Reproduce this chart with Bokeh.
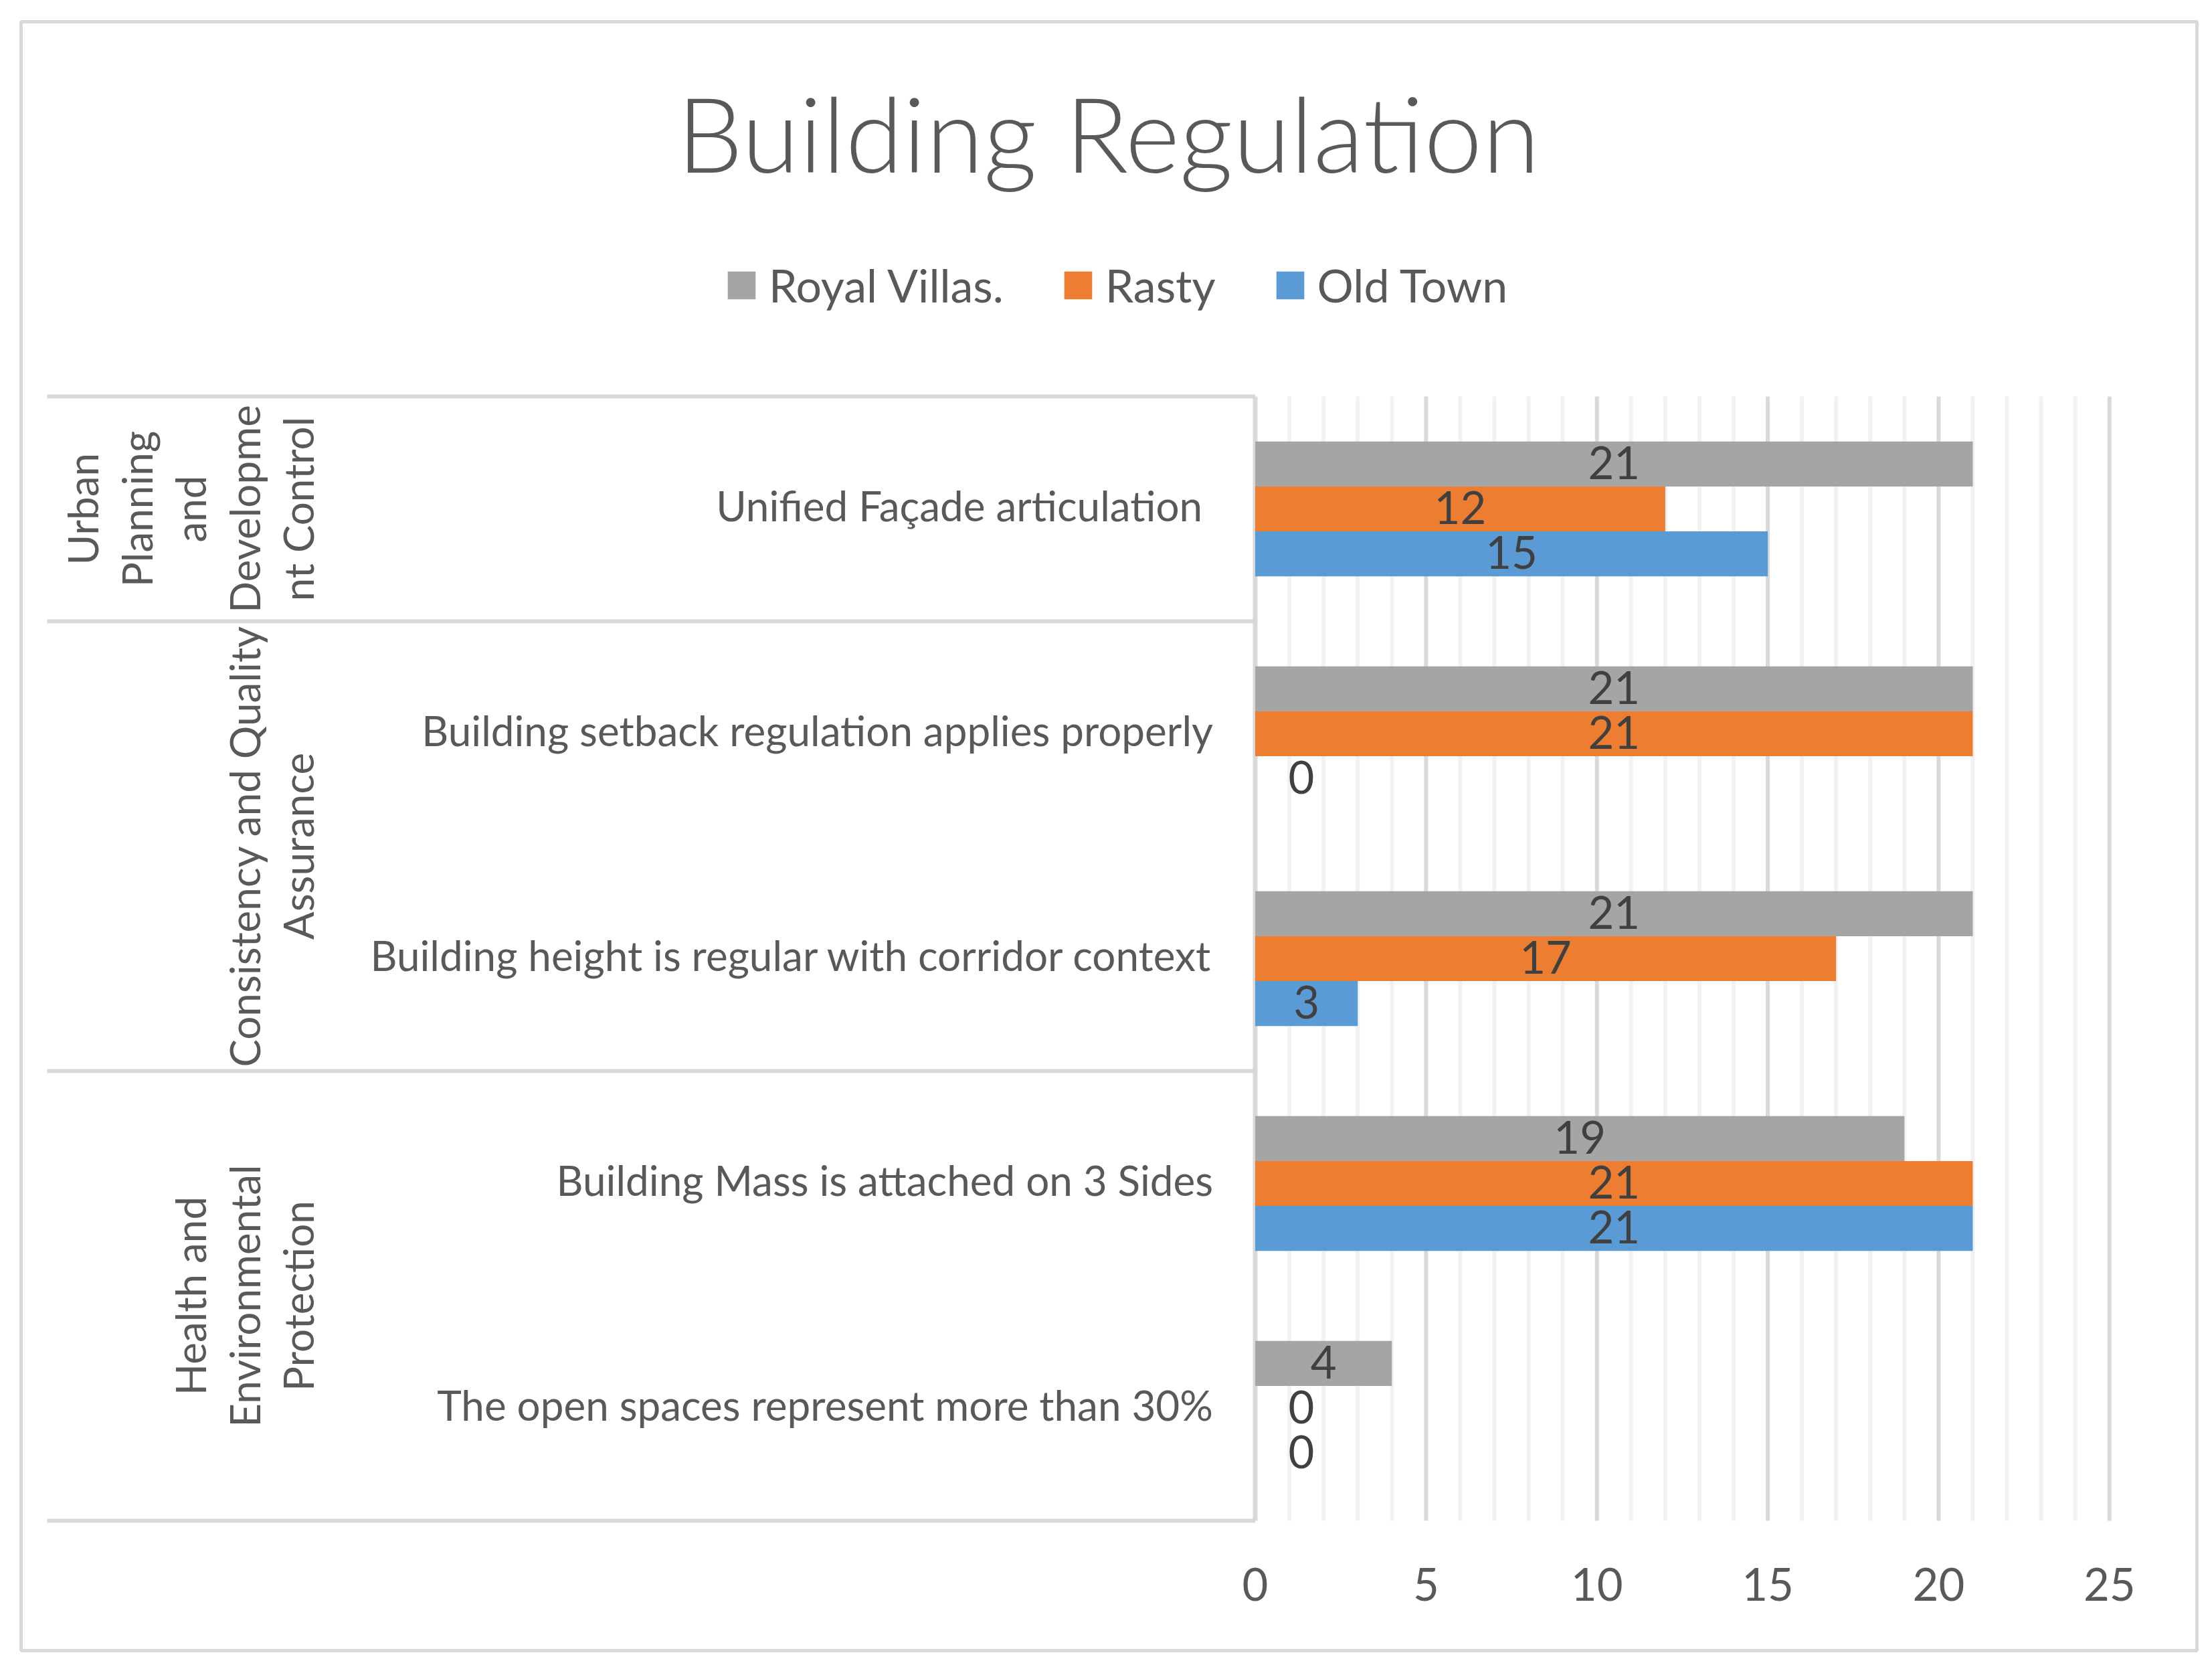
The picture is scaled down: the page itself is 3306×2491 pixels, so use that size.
import math
from bokeh.plotting import figure
from bokeh.models import ColumnDataSource
from bokeh.core.properties import value
from bokeh.embed import file_html
from bokeh.resources import INLINE

# ---------------- data ----------------
title_text = "Building Regulation"
categories = [
    "Unified Façade articulation ",
    "Building setback regulation applies properly",
    "Building height is regular with corridor context",
    "Building Mass is attached on 3  Sides",
    "The open spaces represent more than 30%",
]
groups = [
    "Urban\nPlanning\nand\nDevelopme\nnt Control",
    "Consistency and Quality\nAssurance",
    "Health and\nEnvironmental\nProtection",
]
group_sizes = [1, 2, 2]
series_names = ["Royal Villas.", "Rasty", "Old Town"]
royal_villas = [21, 21, 21, 19, 4]
rasty = [12, 21, 17, 21, 0]
old_town = [15, 0, 3, 21, 0]
x_ticks = [0, 5, 10, 15, 20, 25]

# ---------------- style / layout ----------------
colors = ["#A5A5A5", "#ED7D31", "#5B9BD5"]
FONT = value("Lato")
TXT = "#595959"
LBL = "#404040"
GRID_MAJOR = "#D9D9D9"
GRID_MINOR = "#F2F2F2"

W, H = 3290, 2475
PAGE = 0
FR_L, FR_R, FR_T, FR_B = 31, 3283, 32, 2466   # chart border (page px)
AX0 = 1875.5                                  # page x of value 0
UNIT = 51.07                                  # px per value unit
PLOT_T, PLOT_B = 592, 2272                    # plot area top/bottom (page px)
n = len(categories)
BAND = (PLOT_B - PLOT_T) / n
BAR_H = 0.2


def xd(px):
    return (px - AX0) / UNIT


def yd(py):
    return (PLOT_B - py) / BAND


p = figure(
    width=W, height=H,
    x_range=(xd(FR_L), xd(FR_R)), y_range=(yd(FR_B), yd(FR_T)),
    output_backend="svg", toolbar_location=None,
    x_axis_location=None, y_axis_location=None, title=None,
    min_border_left=FR_L - PAGE, min_border_right=W - (FR_R - PAGE),
    min_border_top=FR_T - PAGE, min_border_bottom=H - (FR_B - PAGE),
)
p.grid.visible = False
p.outline_line_color = "#D9D9D9"
p.outline_line_width = 5
p.background_fill_color = "white"
p.border_fill_color = "white"

# gridlines (every unit, majors at every 5)
max_tick = x_ticks[-1]
for t in range(1, max_tick + 1):
    p.segment(x0=t, y0=0, x1=t, y1=n,
              line_color=GRID_MAJOR if t % 5 == 0 else GRID_MINOR, line_width=6)

# category axis line
p.segment(x0=0, y0=0, x1=0, y1=n, line_color=GRID_MAJOR, line_width=7)

# group separators
bounds = [n]
acc = 0
for s in group_sizes:
    acc += s
    bounds.append(n - acc)
p.segment(x0=[xd(70)] * len(bounds), y0=bounds, x1=[0] * len(bounds), y1=bounds,
          line_color=GRID_MAJOR, line_width=6)

# bars
centers = [n - i - 0.5 for i in range(n)]
offsets = [BAR_H, 0.0, -BAR_H]
series = [royal_villas, rasty, old_town]
lab_x, lab_y, lab_t, lab_off = [], [], [], []
for vals, name, col, off in zip(series, series_names, colors, offsets):
    ys = [c + off for c in centers]
    src = ColumnDataSource(dict(y=ys, right=vals))
    p.hbar(y="y", right="right", left=0, height=BAR_H, source=src,
           fill_color=col, line_color=None, legend_label=name)
    for v, y in zip(vals, ys):
        lab_x.append(v / 2)
        lab_y.append(y)
        lab_t.append(str(v))
        lab_off.append(69 if v == 0 else 0)

# data labels
p.text(x="x", y="y", text="t", x_offset="o", y_offset=-2,
       source=ColumnDataSource(dict(x=lab_x, y=lab_y, t=lab_t, o=lab_off)),
       text_font=FONT, text_font_size="67px", text_color=LBL,
       text_align="center", text_baseline="middle")

# category labels (svg collapses repeated spaces: shift by one space width)
cat_off = [-63 + 16 * c.count("  ") for c in categories]
p.text(x="x", y="y", text="t", x_offset="o", y_offset=-6,
       source=ColumnDataSource(dict(x=[0] * n, y=centers, t=categories, o=cat_off)),
       text_font=FONT, text_font_size="62px", text_color=TXT,
       text_align="right", text_baseline="middle")

# group labels (rotated)
g_y = []
acc = 0
for s in group_sizes:
    g_y.append(n - acc - s / 2)
    acc += s
p.text(x=[xd(482)] * len(groups), y=g_y, text=groups, angle=math.pi / 2,
       text_font=FONT, text_font_size="62px", text_color=TXT,
       text_align="center", text_baseline="bottom", text_line_height=1.09)

# value axis tick labels
p.text(x=x_ticks, y=[yd(2367)] * len(x_ticks), text=[str(t) for t in x_ticks],
       text_font=FONT, text_font_size="67px", text_color=TXT,
       text_align="center", text_baseline="middle")

# title
p.text(x=[xd(1656)], y=[yd(197)], text=[title_text],
       text_font=value("Lato Light"), text_font_size="156px", text_color=TXT,
       text_align="center", text_baseline="middle")

# legend
lg = p.legend[0]
lg.orientation = "horizontal"
lg.location = (1051, 2000)
lg.border_line_color = None
lg.background_fill_alpha = 0
lg.label_text_font = "Lato"
lg.label_text_font_size = "68px"
lg.label_text_color = TXT
lg.glyph_width = 52
lg.glyph_height = 52
lg.label_standoff = 15
lg.spacing = 85
lg.padding = 0
lg.margin = 0

open("out.html", "w").write(file_html(p, INLINE))
